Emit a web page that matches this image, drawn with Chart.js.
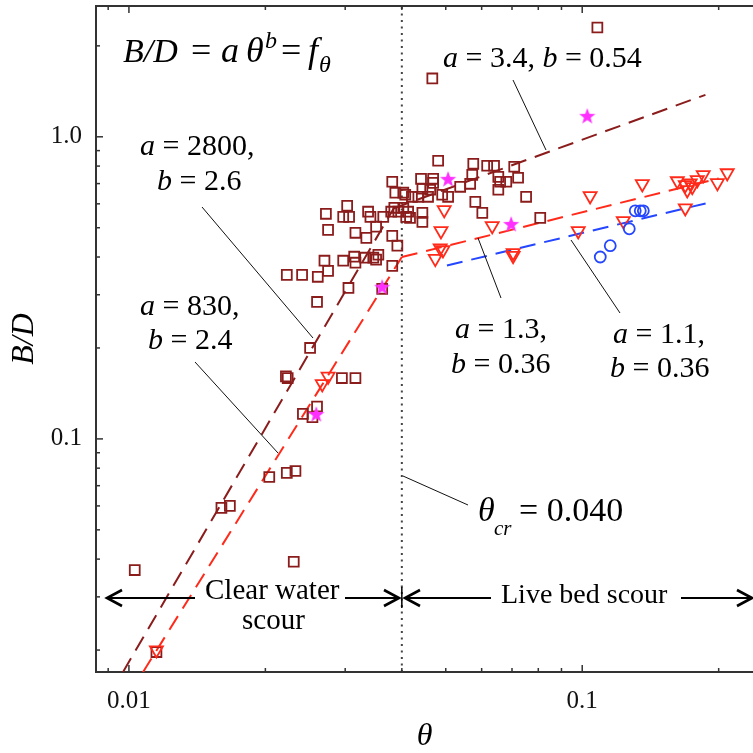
<!DOCTYPE html>
<html>
<head>
<meta charset="utf-8">
<script src="https://cdn.jsdelivr.net/npm/chart.js@4.4.1/dist/chart.umd.min.js"></script>
<style>
  html, body { margin: 0; padding: 0; background: #fff; overflow: hidden; }
  canvas { display: block; }
</style>
</head>
<body>
<canvas id="chart" width="753" height="753"></canvas>
<script>
// ── Data ──────────────────────────────────────────────────────────────────
const squareTheta = [0.108, 0.0467, 0.0103, 0.0160, 0.0167, 0.0204, 0.0223, 0.0233, 0.0231, 0.0115,
    0.0305, 0.0362, 0.0260, 0.0251, 0.0222, 0.0224, 0.0295, 0.0316, 0.0260, 0.0242, 0.0254,
    0.0381, 0.0387, 0.0403, 0.0272, 0.0303, 0.0297, 0.0306, 0.0337, 0.0341, 0.0364, 0.0379,
    0.0385, 0.0403, 0.0409, 0.0275, 0.0316, 0.0334, 0.0351, 0.0381, 0.0391, 0.0270, 0.0297,
    0.0314, 0.0316, 0.0332, 0.0346, 0.0355, 0.0351, 0.0381, 0.0223, 0.0241, 0.0261, 0.0275,
    0.0481, 0.0575, 0.0617, 0.0639, 0.0708, 0.0441, 0.0469, 0.0572, 0.0566, 0.0538, 0.0469,
    0.0653, 0.0659, 0.0680, 0.0722, 0.0653, 0.0752, 0.0407, 0.0421, 0.0435, 0.0457, 0.0491,
    0.0506, 0.0444, 0.0462, 0.0581, 0.0602, 0.0393, 0.0413, 0.0417, 0.0444, 0.0444, 0.0808];
const squareBD = [2.30, 1.56, 0.0368, 0.0591, 0.0600, 0.0748, 0.0772, 0.0783, 0.0392, 0.0197,
    0.316, 0.314, 0.284, 0.200, 0.161, 0.159, 0.159, 0.159, 0.128, 0.121, 0.118,
    0.710, 0.653, 0.653, 0.556, 0.591, 0.543, 0.543, 0.565, 0.543, 0.543, 0.565,
    0.582, 0.582, 0.543, 0.492, 0.481, 0.463, 0.504, 0.470, 0.436, 0.389, 0.389,
    0.401, 0.383, 0.398, 0.398, 0.407, 0.392, 0.374, 0.349, 0.349, 0.344, 0.360,
    0.833, 0.814, 0.802, 0.802, 0.796, 0.726, 0.726, 0.748, 0.699, 0.683, 0.704,
    0.737, 0.710, 0.710, 0.732, 0.668, 0.633, 0.643, 0.633, 0.633, 0.633, 0.643,
    0.633, 0.673, 0.668, 0.609, 0.560, 0.565, 0.565, 0.539, 0.560, 0.523, 0.539];

const triTheta = [0.0115, 0.0267, 0.0275, 0.0496, 0.0488, 0.0486, 0.0493, 0.0474, 0.0633, 0.0704,
    0.0704, 0.1041, 0.1357, 0.0980, 0.1232, 0.1621, 0.1688, 0.1731, 0.1794, 0.1849, 0.1705,
    0.1749, 0.1987, 0.2089, 0.1688];
const triBD = [0.0200, 0.152, 0.161, 0.573, 0.488, 0.428, 0.422, 0.395, 0.507, 0.413,
    0.404, 0.637, 0.698, 0.488, 0.527, 0.714, 0.693, 0.703, 0.720, 0.748, 0.667,
    0.683, 0.704, 0.759, 0.581];

const circleTheta = [0.1096, 0.1153, 0.1270, 0.1309, 0.1343, 0.1364];
const circleBD = [0.400, 0.436, 0.496, 0.569, 0.569, 0.569];

const starTheta = [0.0362, 0.0259, 0.0506, 0.0697, 0.1026];
const starBD = [0.319, 0.121, 0.726, 0.515, 1.174];

// fitted power-law lines, end points
const fitClearDarkTheta = [0.0097, 0.0384];   // a = 2800, b = 2.6
const fitClearDarkBD = [0.0169, 0.58];
const fitLiveDarkTheta = [0.0384, 0.187];     // a = 3.4, b = 0.54
const fitLiveDarkBD = [0.58, 1.377];
const fitClearRedTheta = [0.01074, 0.040];    // a = 830, b = 2.4
const fitClearRedBD = [0.0169, 0.40];
const fitLiveRedTheta = [0.040, 0.20];        // a = 1.3, b = 0.36
const fitLiveRedBD = [0.40, 0.728];
const fitBlueTheta = [0.0503, 0.189];         // a = 1.1, b = 0.36
const fitBlueBD = [0.375, 0.604];

const thetaCr = 0.040;

// axes
const xMin = 0.00846, xMax = 0.2381, yMin = 0.01692, yMax = 2.71;
const xMajorTicks = [0.01, 0.1];
const xTickLabels = ['0.01', '0.1'];
const xMinorTicks = [0.009, 0.02, 0.03, 0.04, 0.05, 0.06, 0.07, 0.08, 0.09, 0.2];
const yMajorTicks = [0.1, 1];
const yTickLabels = ['0.1', '1.0'];
const yMinorTicks = [0.02, 0.03, 0.04, 0.05, 0.06, 0.07, 0.08, 0.09,
    0.2, 0.3, 0.4, 0.5, 0.6, 0.7, 0.8, 0.9, 2];

const SERIF = '"Liberation Serif", "Times New Roman", serif';
const DARK = '#8b1c1c';
const RED = '#ff2a1a';
const BLUE = '#2446ff';
const MAGENTA = '#ff30ff';

function pts(xs, ys) {
    return xs.map(function (x, i) { return { x: x, y: ys[i] }; });
}

// filled five-point star marker
const starImg = (function () {
    const c = document.createElement('canvas');
    c.width = 18; c.height = 18;
    const g = c.getContext('2d');
    g.fillStyle = MAGENTA;
    g.beginPath();
    for (let i = 0; i < 10; i++) {
        const r = i % 2 ? 3.5 : 8.5;
        const a = -Math.PI / 2 + i * Math.PI / 5;
        g.lineTo(9 + r * Math.cos(a), 9.8 + r * Math.sin(a));
    }
    g.closePath();
    g.fill();
    return c;
})();

function fitLine(xs, ys, color) {
    return {
        data: pts(xs, ys), showLine: true, pointRadius: 0,
        borderColor: color, borderWidth: 2, borderDash: [16, 9], order: 5,
    };
}

// ── Annotations (texts, leader lines, arrows) ─────────────────────────────
const textRuns = [
    { x: 123, y: 62, size: 34, parts: [['B/D', 1]] },
    { x: 191, y: 62, size: 36, parts: [['=', 0]] },
    { x: 221, y: 62, size: 36, parts: [['a', 1]] },
    { x: 246, y: 62, size: 36, parts: [['θ', 1]] },
    { x: 265, y: 48, size: 24, parts: [['b', 1]] },
    { x: 281, y: 62, size: 36, parts: [['=', 0]] },
    { x: 308, y: 62, size: 36, parts: [['f', 1]] },
    { x: 319, y: 72, size: 24, parts: [['θ', 1]] },
    { x: 140, y: 155, size: 30, parts: [['a', 1], [' = 2800,', 0]] },
    { x: 157, y: 190, size: 30, parts: [['b', 1], [' = 2.6', 0]] },
    { x: 140, y: 315, size: 30, parts: [['a', 1], [' = 830,', 0]] },
    { x: 148, y: 349, size: 30, parts: [['b', 1], [' = 2.4', 0]] },
    { x: 443, y: 67, size: 30, parts: [['a', 1], [' = 3.4, ', 0], ['b', 1], [' = 0.54', 0]] },
    { x: 455, y: 338, size: 30, parts: [['a', 1], [' = 1.3,', 0]] },
    { x: 451, y: 373, size: 30, parts: [['b', 1], [' = 0.36', 0]] },
    { x: 613, y: 343, size: 30, parts: [['a', 1], [' = 1.1,', 0]] },
    { x: 610, y: 377, size: 30, parts: [['b', 1], [' = 0.36', 0]] },
    { x: 478, y: 521, size: 34, parts: [['θ', 1]] },
    { x: 494, y: 535, size: 21, parts: [['cr', 1]] },
    { x: 519, y: 521, size: 34, parts: [['= 0.040', 0]] },
    { x: 205, y: 599, size: 29, parts: [['Clear water', 0]] },
    { x: 242, y: 629, size: 29, parts: [['scour', 0]] },
    { x: 501, y: 603, size: 28, parts: [['Live bed scour', 0]] },
];
const leaders = [
    [202, 207, 313, 338], [195, 362, 278, 453], [513, 80, 546, 150],
    [501, 298, 478, 238], [620, 313, 571, 240], [403, 476, 468, 505],
];
const arrowY = 598;

const decor = {
    id: 'decor',
    afterDraw: function (chart) {
        const ctx = chart.ctx;
        const ca = chart.chartArea;
        const xs = chart.scales.x, ys = chart.scales.y;
        ctx.save();
        // frame top line
        ctx.strokeStyle = '#333';
        ctx.lineWidth = 2;
        ctx.beginPath();
        ctx.moveTo(ca.left, ca.top); ctx.lineTo(ca.right, ca.top);
        ctx.stroke();
        // inward ticks
        ctx.lineWidth = 1.5;
        function xt(v, len) {
            const p = xs.getPixelForValue(v);
            ctx.beginPath();
            ctx.moveTo(p, ca.bottom); ctx.lineTo(p, ca.bottom - len);
            ctx.moveTo(p, ca.top); ctx.lineTo(p, ca.top + len);
            ctx.stroke();
        }
        function yt(v, len) {
            const p = ys.getPixelForValue(v);
            ctx.beginPath();
            ctx.moveTo(ca.left, p); ctx.lineTo(ca.left + len, p);
            ctx.stroke();
        }
        xMinorTicks.forEach(function (v) { xt(v, 4); });
        xMajorTicks.forEach(function (v) { xt(v, 7); });
        yMinorTicks.forEach(function (v) { yt(v, 4); });
        yMajorTicks.forEach(function (v) { yt(v, 7); });

        // leader lines
        ctx.strokeStyle = '#111';
        ctx.lineWidth = 1;
        leaders.forEach(function (l) {
            ctx.beginPath(); ctx.moveTo(l[0], l[1]); ctx.lineTo(l[2], l[3]); ctx.stroke();
        });

        // scour regime arrows
        ctx.strokeStyle = '#000';
        ctx.lineWidth = 2;
        function seg(x1, x2) {
            ctx.beginPath(); ctx.moveTo(x1, arrowY); ctx.lineTo(x2, arrowY); ctx.stroke();
        }
        function head(tip, dir) {
            ctx.lineWidth = 2.6;
            ctx.beginPath();
            ctx.moveTo(tip - dir * 15, arrowY - 8);
            ctx.lineTo(tip, arrowY);
            ctx.lineTo(tip - dir * 15, arrowY + 8);
            ctx.stroke();
            ctx.lineWidth = 2;
        }
        seg(107, 195); head(107, -1);
        seg(345, 399); head(399, 1);
        seg(405, 491); head(405, -1);
        seg(681, 752); head(752, 1);
        ctx.lineWidth = 1.5;
        const px = xs.getPixelForValue(thetaCr);
        ctx.beginPath(); ctx.moveTo(px, arrowY - 11); ctx.lineTo(px, arrowY + 10); ctx.stroke();

        // texts
        ctx.fillStyle = '#000';
        ctx.textBaseline = 'alphabetic';
        ctx.textAlign = 'left';
        textRuns.forEach(function (t) {
            let x = t.x;
            t.parts.forEach(function (p) {
                ctx.font = (p[1] ? 'italic ' : '') + t.size + 'px ' + SERIF;
                ctx.fillText(p[0], x, t.y);
                x += ctx.measureText(p[0]).width;
            });
        });
        ctx.restore();
    },
};

new Chart(document.getElementById('chart'), {
    type: 'scatter',
    data: {
        datasets: [
            {
                data: pts(starTheta, starBD), pointStyle: starImg, pointRadius: 9, order: 0,
            },
            {
                data: pts(circleTheta, circleBD), pointStyle: 'circle', pointRadius: 5.5,
                pointBorderColor: BLUE, pointBackgroundColor: 'rgba(0,0,0,0)', pointBorderWidth: 1.8, order: 1,
            },
            {
                data: pts(triTheta, triBD), pointStyle: 'triangle', pointRotation: 180, pointRadius: 7.5,
                pointBorderColor: RED, pointBackgroundColor: 'rgba(0,0,0,0)', pointBorderWidth: 1.8, order: 2,
            },
            {
                data: pts(squareTheta, squareBD), pointStyle: 'rect', pointRadius: 7,
                pointBorderColor: DARK, pointBackgroundColor: 'rgba(0,0,0,0)', pointBorderWidth: 1.8, order: 3,
            },
            fitLine(fitClearDarkTheta, fitClearDarkBD, DARK),
            fitLine(fitLiveDarkTheta, fitLiveDarkBD, DARK),
            fitLine(fitClearRedTheta, fitClearRedBD, RED),
            fitLine(fitLiveRedTheta, fitLiveRedBD, RED),
            fitLine(fitBlueTheta, fitBlueBD, BLUE),
            {
                data: pts([thetaCr, thetaCr], [yMin, yMax]), showLine: true, pointRadius: 0,
                borderColor: '#444', borderWidth: 2, borderDash: [2, 4.5], order: 6,
            },
        ],
    },
    options: {
        responsive: false,
        animation: false,
        events: [],
        layout: { autoPadding: false, padding: { top: 6, right: 0, left: 0, bottom: 0 } },
        plugins: { legend: { display: false }, tooltip: { enabled: false } },
        scales: {
            x: {
                type: 'logarithmic', min: xMin, max: xMax,
                grid: { display: false, drawTicks: false },
                border: { display: true, color: '#333', width: 2 },
                afterBuildTicks: function (s) { s.ticks = xMajorTicks.map(function (v) { return { value: v }; }); },
                afterFit: function (s) { s.height = 81; s.paddingLeft = 0; s.paddingRight = 0; },
                ticks: {
                    autoSkip: false, maxRotation: 0, padding: 14, color: '#111',
                    font: { family: SERIF, size: 25 },
                    callback: function (v, i) { return xTickLabels[i]; },
                },
                title: {
                    display: true, text: 'θ', color: '#000',
                    font: { family: SERIF, size: 32, style: 'italic', lineHeight: 1 },
                    padding: { top: 0, bottom: 0 },
                },
            },
            y: {
                type: 'logarithmic', min: yMin, max: yMax,
                grid: { display: false, drawTicks: false },
                border: { display: true, color: '#333', width: 2 },
                afterBuildTicks: function (s) { s.ticks = yMajorTicks.map(function (v) { return { value: v }; }); },
                afterFit: function (s) { s.width = 96; s.paddingTop = 0; s.paddingBottom = 0; },
                ticks: {
                    autoSkip: false, padding: 14, color: '#111',
                    font: { family: SERIF, size: 25 },
                    callback: function (v, i) { return yTickLabels[i]; },
                },
                title: {
                    display: true, text: 'B/D', color: '#000',
                    font: { family: SERIF, size: 32, style: 'italic', lineHeight: 1 },
                    padding: { top: 9, bottom: 0 },
                },
            },
        },
    },
    plugins: [decor],
});
</script>
</body>
</html>
